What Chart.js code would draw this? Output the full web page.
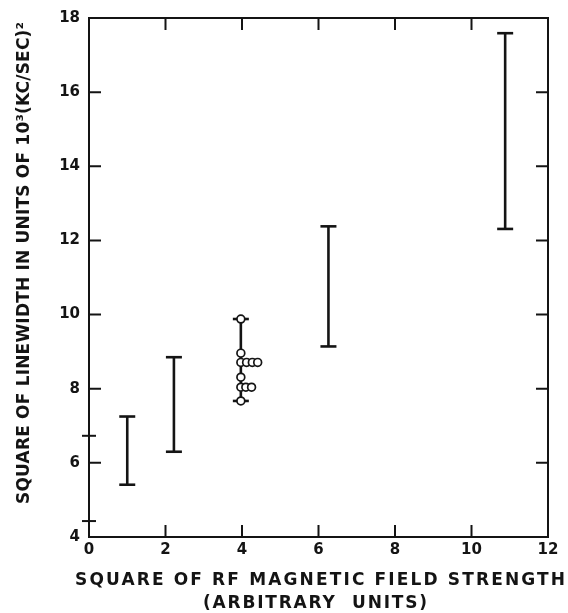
<!DOCTYPE html>
<html>
<head>
<meta charset="utf-8">
<title>Linewidth vs RF field</title>
<script src="https://cdn.jsdelivr.net/npm/chart.js"></script>
<style>
  html, body { margin: 0; padding: 0; background: #fff; }
  #wrap { width: 568px; height: 613px; position: relative; }
</style>
</head>
<body>
<div id="wrap"><canvas id="myChart"></canvas></div>
<script>
// error bars: x position, low and high ends
const barX    = [1.0, 2.22, 3.97, 6.26, 10.88];
const barLow  = [5.41, 6.30, 7.67, 9.14, 12.31];
const barHigh = [7.25, 8.85, 9.88, 12.38, 17.59];

// individual points (open circles) near x = 4
const circleX = [3.97, 3.97, 3.97, 4.12, 4.27, 4.41, 3.97, 3.97, 4.10, 4.25, 3.97];
const circleY = [9.88, 8.96, 8.71, 8.71, 8.71, 8.71, 8.31, 8.04, 8.04, 8.04, 7.67];

// small marks crossing the vertical axis
const markY = [6.73, 4.43];

const xTicks = [0, 2, 4, 6, 8, 10, 12];
const yTicks = [4, 6, 8, 10, 12, 14, 16, 18];

const xTitle1 = 'SQUARE OF RF MAGNETIC FIELD STRENGTH';
const xTitle2 = '(ARBITRARY  UNITS)';
const yTitle = 'SQUARE OF LINEWIDTH IN UNITS OF 10\u00B3(KC/SEC)\u00B2';

const INK = '#141414';
const FONT = 'bold 17px "DejaVu Sans", "Liberation Sans", sans-serif';
const tickFont = { family: '"DejaVu Sans", sans-serif', size: 15, weight: 'bold' };

const datasets = barX.map((x, i) => ({
  type: 'line',
  data: [{ x: x, y: barLow[i] }, { x: x, y: barHigh[i] }],
  borderColor: INK,
  borderWidth: 2.6,
  pointStyle: 'line',
  pointRadius: 8,
  pointBorderWidth: 2.6,
  pointBorderColor: INK,
  fill: false,
  order: 2
}));

datasets.push({
  type: 'scatter',
  data: circleX.map((x, i) => ({ x: x, y: circleY[i] })),
  pointStyle: 'circle',
  pointRadius: 3.9,
  pointBorderWidth: 1.7,
  pointBorderColor: INK,
  pointBackgroundColor: '#fff',
  order: 1
});

datasets.push({
  type: 'scatter',
  data: markY.map(y => ({ x: 0, y: y })),
  pointStyle: 'line',
  pointRadius: 7,
  pointBorderWidth: 2,
  pointBorderColor: INK,
  clip: false,
  order: 1
});

// text fitted to a given width: letter spacing if short, squeezed if long
function fitText(ctx, text, cx, cy, width) {
  ctx.letterSpacing = '0px';
  const w0 = ctx.measureText(text).width;
  ctx.save();
  ctx.translate(cx, cy);
  if (w0 > width) {
    ctx.scale(width / w0, 1);
    ctx.fillText(text, 0, 0);
  } else {
    const sp = (width - w0) / (text.length - 1);
    ctx.letterSpacing = sp + 'px';
    ctx.fillText(text, sp / 2, 0);
  }
  ctx.restore();
  ctx.letterSpacing = '0px';
}

const framePlugin = {
  id: 'frame',
  afterDraw(chart) {
    const ctx = chart.ctx;
    const a = chart.chartArea;
    const xs = chart.scales.x, ys = chart.scales.y;
    ctx.save();
    ctx.strokeStyle = INK;
    ctx.lineWidth = 2;
    ctx.strokeRect(a.left, a.top, a.right - a.left, a.bottom - a.top);
    const tl = 12;
    ctx.beginPath();
    xTicks.slice(1, -1).forEach(v => {
      const px = xs.getPixelForValue(v);
      ctx.moveTo(px, a.bottom); ctx.lineTo(px, a.bottom - tl);
      ctx.moveTo(px, a.top); ctx.lineTo(px, a.top + tl);
    });
    yTicks.slice(1, -1).forEach(v => {
      const py = ys.getPixelForValue(v);
      ctx.moveTo(a.left, py); ctx.lineTo(a.left + tl, py);
      ctx.moveTo(a.right, py); ctx.lineTo(a.right - tl, py);
    });
    ctx.stroke();

    ctx.fillStyle = INK;
    ctx.font = FONT;
    ctx.textAlign = 'center';
    ctx.textBaseline = 'middle';
    fitText(ctx, xTitle1, 320, 581, 490);
    fitText(ctx, xTitle2, 315, 604, 224);
    ctx.translate(25, 263);
    ctx.rotate(-Math.PI / 2);
    fitText(ctx, yTitle, 0, 0, 482);
    ctx.restore();
  }
};

const ctx = document.getElementById('myChart').getContext('2d');
new Chart(ctx, {
  data: { datasets: datasets },
  plugins: [framePlugin],
  options: {
    responsive: true,
    maintainAspectRatio: false,
    animation: false,
    layout: { padding: { top: 14, right: 20, left: 0, bottom: 0 } },
    plugins: { legend: { display: false }, tooltip: { enabled: false } },
    scales: {
      x: {
        type: 'linear', min: 0, max: 12,
        afterBuildTicks: s => { s.ticks = xTicks.map(v => ({ value: v })); },
        afterFit: s => { s.height = 76; },
        grid: { display: false, drawTicks: false },
        border: { display: false },
        ticks: { color: INK, padding: 4, font: tickFont }
      },
      y: {
        type: 'linear', min: 4, max: 18,
        afterBuildTicks: s => { s.ticks = yTicks.map(v => ({ value: v })); },
        afterFit: s => { s.width = 89; },
        grid: { display: false, drawTicks: false },
        border: { display: false },
        ticks: { color: INK, padding: 9, font: tickFont }
      }
    }
  }
});
</script>
</body>
</html>
